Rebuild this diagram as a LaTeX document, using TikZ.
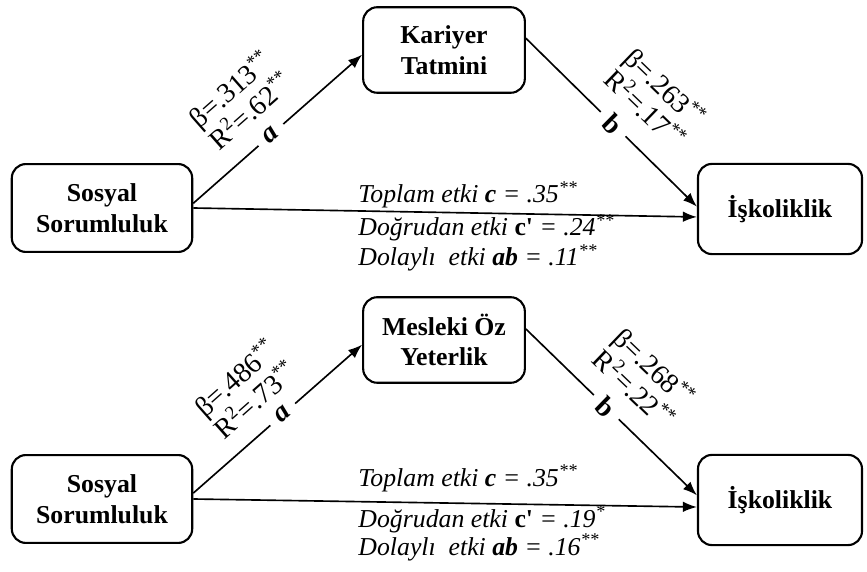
\documentclass[tikz,border=0pt]{standalone}
\usepackage{fontspec}
\setmainfont{Liberation Serif}
\usetikzlibrary{arrows.meta}
\usetikzlibrary{positioning}

\tikzset{
  varbox/.style={draw, line width=0.9pt, rounded corners=6pt, align=center,
    inner sep=2pt, font=\fontsize{11}{13}\selectfont\bfseries},
  patharrow/.style={line width=0.7pt, -{Latex[length=6pt,width=4.5pt]}},
  coef/.style={align=left, inner sep=0pt, font=\fontsize{12}{12.6}\selectfont},
  pathname/.style={sloped, fill=white, inner xsep=4pt, inner ysep=1pt,
    font=\fontsize{12}{13}\selectfont\bfseries},
  effect/.style={anchor=base west, inner sep=0pt,
    font=\fontsize{11}{12.5}\selectfont\itshape}
}

\begin{document}
\begin{tikzpicture}[x=0.015cm, y=-0.015cm]
  \useasboundingbox (0,0) rectangle (867,572);

  % upper model
  \node[varbox, minimum width=77pt, minimum height=37.5pt] (SS1) at (102,208) {Sosyal\\Sorumluluk};
  \node[varbox, minimum width=69pt, minimum height=36.5pt] (KT) at (444,50) {Kariyer\\Tatmini};
  \node[varbox, minimum width=70pt, minimum height=38.5pt] (IS1) at (780,209) {İşkoliklik};

  \draw[patharrow] ([yshift=2pt]SS1.east) -- ([yshift=-2pt]KT.west)
    node[pathname, pos=0.46] {\textit{a}};
  \draw[patharrow] ([yshift=5pt]KT.east) -- ([yshift=1pt]IS1.west)
    node[pathname, pos=0.51] {b};
  \draw[patharrow] (SS1.east) -- ([yshift=-3.4pt]IS1.west);

  \node[coef, rotate=41.3] (COa1) at (240,99) {β=.313\textsuperscript{**}\\R\textsuperscript{2}=.62\textsuperscript{**}};
  \node[coef, rotate=-44] (COb1) at (656,98) {β=.263\textsuperscript{**}\\R\textsuperscript{2}=.17\textsuperscript{**}};

  \node[effect] (TE1) at (358,203) {Toplam etki \textbf{c} = .35\textsuperscript{**}};
  \node[effect] (DE1) at (358,236) {Doğrudan etki \textbf{\upshape c\textquotesingle} = .24\textsuperscript{**}};
  \node[effect] (IE1) at (358,266) {Dolaylı\ \ etki \textbf{ab} = .11\textsuperscript{**}};

  % lower model
  \node[varbox, minimum width=77pt, minimum height=37.5pt] (SS2) at (102,499) {Sosyal\\Sorumluluk};
  \node[varbox, minimum width=69pt, minimum height=36.5pt] (MO) at (444,340) {Mesleki Öz\\Yeterlik};
  \node[varbox, minimum width=70pt, minimum height=38.5pt] (IS2) at (780,500) {İşkoliklik};

  \draw[patharrow] ([yshift=2.5pt]SS2.east) -- ([yshift=-2pt]MO.west)
    node[pathname, pos=0.53] {\textit{a}};
  \draw[patharrow] ([yshift=4.7pt]MO.east) -- ([yshift=2pt]IS2.west)
    node[pathname, pos=0.47] {b};
  \draw[patharrow] (SS2.east) -- ([yshift=-3pt]IS2.west);

  \node[coef, rotate=41.5] (COa2) at (245,388) {β=.486\textsuperscript{**}\\R\textsuperscript{2}=.73\textsuperscript{**}};
  \node[coef, rotate=-43.8] (COb2) at (645,378) {β=.268\textsuperscript{**}\\R\textsuperscript{2}=.22\textsuperscript{**}};

  \node[effect] (TE2) at (358,486) {Toplam etki \textbf{c} = .35\textsuperscript{**}};
  \node[effect] (DE2) at (358,527) {Doğrudan etki \textbf{\upshape c\textquotesingle} = .19\textsuperscript{*}};
  \node[effect] (IE2) at (358,555) {Dolaylı\ \ etki \textbf{ab} = .16\textsuperscript{**}};
\end{tikzpicture}
\end{document}
